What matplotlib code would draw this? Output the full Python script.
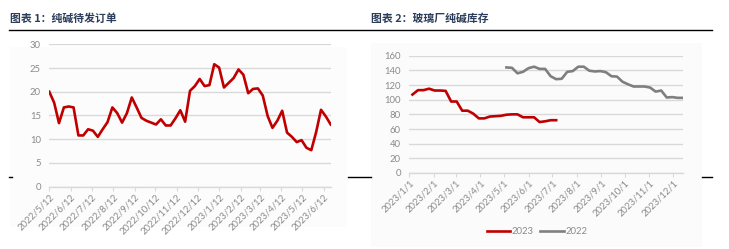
"""Two panels: soda ash pending orders and glass-plant soda ash inventory."""

import matplotlib
matplotlib.use("Agg")
import matplotlib.pyplot as plt
from matplotlib.lines import Line2D
from matplotlib.patches import Rectangle
import pandas as pd

# ---- data -------------------------------------------------------------
orders_start = "2022-05-12"
orders_values = [
    20.0, 17.7, 13.4, 16.7, 16.9, 16.7, 10.8, 10.8, 12.1, 11.8,
    10.5, 12.1, 13.6, 16.7, 15.5, 13.5, 15.5, 18.8, 16.7, 14.5,
    13.9, 13.5, 13.1, 14.2, 12.9, 12.9, 14.4, 16.1, 13.7, 20.2,
    21.2, 22.7, 21.2, 21.4, 25.8, 25.1, 20.9, 21.9, 22.9, 24.7,
    23.6, 19.7, 20.6, 20.7, 19.2, 14.9, 12.4, 13.9, 16.0, 11.4,
    10.5, 9.4, 9.8, 8.2, 7.7, 11.5, 16.2, 14.8, 13.1,
]
orders_ticks = [
    "2022-05-12", "2022-06-12", "2022-07-12", "2022-08-12", "2022-09-12",
    "2022-10-12", "2022-11-12", "2022-12-12", "2023-01-12", "2023-02-12",
    "2023-03-12", "2023-04-12", "2023-05-12", "2023-06-12",
]

stock_2023_start = "2023-01-05"
stock_2023 = [
    107, 113, 113, 115, 112.5, 112.5, 112, 97.5, 97.5, 85,
    85, 81, 74.5, 74.5, 77, 77.5, 78, 79.5, 80, 80,
    76, 76, 76, 69.5, 70.5, 72, 72,
]
stock_2022_start = "2023-05-04"  # 2022 series drawn on the 2023 calendar
stock_2022 = [
    144, 143.5, 136, 138, 143, 145, 142, 142, 132, 128,
    128.5, 138, 139, 145, 145, 139.5, 138.5, 139, 137.5, 132,
    131.5, 124.5, 121, 118, 118, 118, 116.5, 111, 112.5, 103,
    103.5, 102.5, 102.5,
]
stock_ticks = [
    "2023-01-01", "2023-02-01", "2023-03-01", "2023-04-01", "2023-05-01",
    "2023-06-01", "2023-07-01", "2023-08-01", "2023-09-01", "2023-10-01",
    "2023-11-01", "2023-12-01",
]

RED = "#c00000"
GREY = "#7f7f7f"
GRID = "#d9d9d9"
TXT = "#8a8a8a"
TITLE = "#2b3d5a"

plt.rcParams["font.family"] = ["Lato", "DejaVu Sans"]

W, H = 729, 249
fig = plt.figure(figsize=(W / 100, H / 100), dpi=100)


def fx(px):
    return px / W


def fy(py):
    return 1 - py / H


def date_label(d):
    d = pd.Timestamp(d)
    return f"{d.year}/{d.month}/{d.day}"


def style_axis(ax, ymax, ystep, ticks):
    ax.set_facecolor("none")
    for s in ("top", "right", "left"):
        ax.spines[s].set_visible(False)
    ax.spines["bottom"].set_color(GRID)
    ax.spines["bottom"].set_linewidth(1.0)
    ax.set_ylim(0, ymax)
    ax.set_yticks(range(0, ymax + 1, ystep))
    ax.grid(axis="y", color=GRID, linewidth=1.0)
    ax.set_axisbelow(True)
    ax.tick_params(axis="y", length=0, labelsize=6.8, labelcolor=TXT, pad=6)
    tick_dates = pd.to_datetime(ticks)
    ax.set_xticks(tick_dates)
    ax.set_xticklabels([date_label(d) for d in tick_dates])
    ax.tick_params(axis="x", length=3, color=GRID, labelsize=6.8, labelcolor=TXT, pad=1)
    for lab in ax.get_xticklabels():
        lab.set_rotation(45)
        lab.set_ha("right")
        lab.set_rotation_mode("anchor")


# faint chart backgrounds (behind the axes)
fig.patches.append(Rectangle((fx(10), fy(227)), fx(337), 180 / H, transform=fig.transFigure,
                             facecolor="#fcfcfc", edgecolor="none", zorder=-5))
fig.patches.append(Rectangle((fx(371), fy(247)), fx(331), 204 / H, transform=fig.transFigure,
                             facecolor="#fbfbfb", edgecolor="none", zorder=-5))

# ---- left: pending orders --------------------------------------------
ax1 = fig.add_axes([fx(49.3), fy(186.7), fx(281.4), 142.4 / H])
d1 = pd.date_range(orders_start, periods=len(orders_values), freq="7D")
ax1.plot(d1, orders_values, color=RED, linewidth=1.9, solid_joinstyle="round")
style_axis(ax1, 30, 5, orders_ticks)
ax1.set_xlim(d1[0], d1[-1])

# ---- right: glass plant inventory ------------------------------------
ax2 = fig.add_axes([fx(409.3), fy(173), fx(274), 117.3 / H])
d23 = pd.date_range(stock_2023_start, periods=len(stock_2023), freq="7D")
d22 = pd.date_range(stock_2022_start, periods=len(stock_2022), freq="7D")
ax2.plot(d23, stock_2023, color=RED, linewidth=1.9, solid_joinstyle="round", label="2023")
ax2.plot(d22, stock_2022, color=GREY, linewidth=1.9, solid_joinstyle="round", label="2022")
style_axis(ax2, 160, 20, stock_ticks)
ax2.set_xlim(pd.Timestamp("2023-01-01"), d22[-1])

fig.legend(handles=[Line2D([], [], color=RED, lw=1.9), Line2D([], [], color=GREY, lw=1.9)],
           labels=["2023", "2022"], loc="center", bbox_to_anchor=(fx(537), fy(231.5)),
           ncol=2, frameon=False, fontsize=6.8, labelcolor=TXT, handlelength=2.5,
           handletextpad=0.15, columnspacing=0.7)

# ---- titles and rules ------------------------------------------------
title_font = ["Noto Sans CJK SC", "DejaVu Sans"]
fig.text(fx(10), fy(19), "图表 1：纯碱待发订单", family=title_font, fontsize=7.8,
         fontweight="bold", color=TITLE, va="center", ha="left")
fig.text(fx(371), fy(19), "图表 2：玻璃厂纯碱库存", family=title_font, fontsize=7.8,
         fontweight="bold", color=TITLE, va="center", ha="left")

for x0, x1, y in [(9, 712, 30.3), (9, 12, 177.3), (348, 371, 177.3), (702, 712, 177.3)]:
    fig.add_artist(Line2D([fx(x0), fx(x1)], [fy(y), fy(y)], color="black", linewidth=1.0,
                          transform=fig.transFigure))

fig.savefig("out.png", dpi=100)
